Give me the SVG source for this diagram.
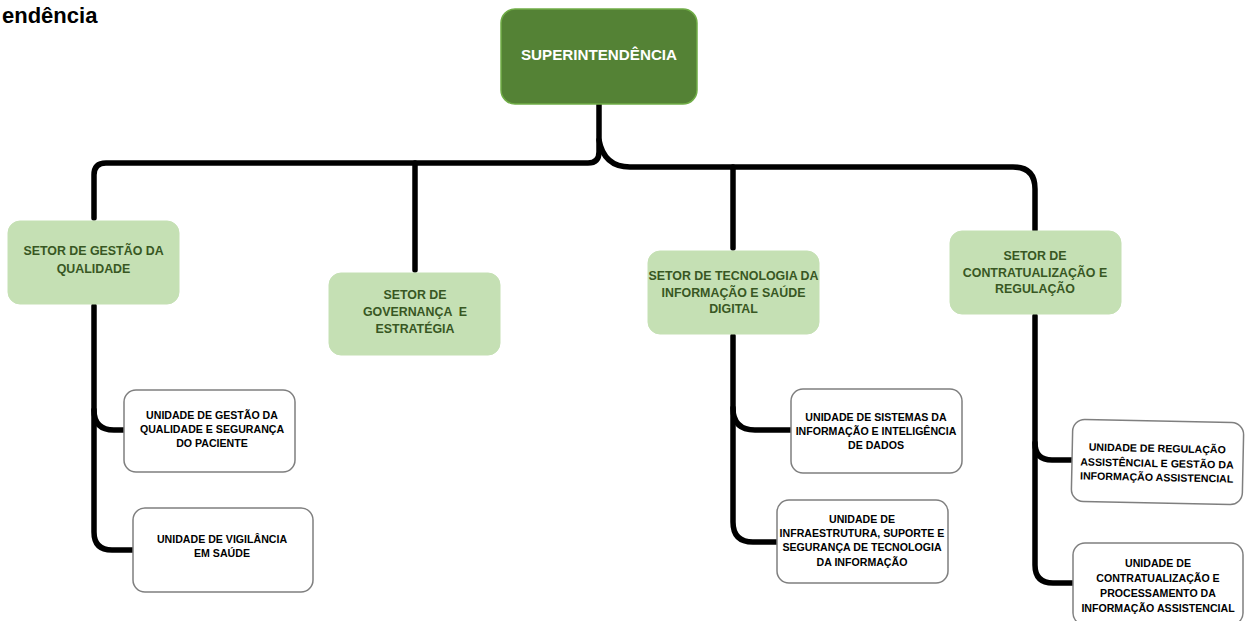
<svg xmlns="http://www.w3.org/2000/svg" width="1253" height="621" viewBox="0 0 1253 621">
<style>
.conn{fill:none;stroke:#000;stroke-width:5.5;stroke-linecap:round;stroke-linejoin:round}
.top{fill:#548235;stroke:#70ad47;stroke-width:1.5}
.setor{fill:#c5e0b4;stroke:#c5e0b4;stroke-width:1}
.unit{fill:#fff;stroke:#7f7f7f;stroke-width:1.5}
.t{font-family:"Liberation Sans",Arial,sans-serif;font-weight:bold;text-anchor:middle}
.ts{font-size:12.4px;fill:#385723}
.tu{font-size:10.6px;fill:#000}
.tt{font-size:15.2px;fill:#fff}
</style>
<text x="2" y="23" font-family="Liberation Sans, Arial, sans-serif" font-weight="bold" font-size="22" fill="#000">endência</text>
<g id="connectors">
<path class="conn" d="M599,104 V152 Q599,163 588,163 H106 Q94,163 94,175 V218"/>
<path class="conn" d="M599,140 Q604,167 630,167 H1013 Q1035,167 1035,189 V230"/>
<path class="conn" d="M415,163 V270"/>
<path class="conn" d="M733,167 V248"/>
<path class="conn" d="M94,306 V532 Q94,550 112,550 H133"/>
<path class="conn" d="M94,410 Q94,430 114,430 H124"/>
<path class="conn" d="M733,336 V522 Q733,542 753,542 H777"/>
<path class="conn" d="M733,408 Q733,430 755,430 H791"/>
<path class="conn" d="M1035,316 V565 Q1035,583 1053,583 H1073"/>
<path class="conn" d="M1035,443 Q1035,460 1052,460 H1072"/>
</g>
<g id="superintendencia">
<rect class="top" x="501" y="9" width="196" height="95" rx="14"/>
<text class="t tt" x="599" y="60">SUPERINTENDÊNCIA</text>
</g>
<g id="setor-qualidade">
<rect class="setor" x="8" y="221" width="171" height="83" rx="12"/>
<text class="t ts" x="93.5" y="255">SETOR DE GESTÃO DA</text>
<text class="t ts" x="93.5" y="273">QUALIDADE</text>
</g>
<g id="setor-governanca">
<rect class="setor" x="329" y="273" width="171" height="82" rx="12"/>
<text class="t ts" x="415" y="299">SETOR DE</text>
<text class="t ts" x="415" y="316" xml:space="preserve">GOVERNANÇA  E</text>
<text class="t ts" x="415" y="333">ESTRATÉGIA</text>
</g>
<g id="setor-ti">
<rect class="setor" x="648" y="251" width="171" height="83" rx="12"/>
<text class="t ts" x="733.5" y="280">SETOR DE TECNOLOGIA DA</text>
<text class="t ts" x="733.5" y="296.5">INFORMAÇÃO E SAÚDE</text>
<text class="t ts" x="733.5" y="313">DIGITAL</text>
</g>
<g id="setor-contratualizacao">
<rect class="setor" x="950" y="231" width="171" height="83" rx="12"/>
<text class="t ts" x="1035" y="260">SETOR DE</text>
<text class="t ts" x="1035" y="276.5">CONTRATUALIZAÇÃO E</text>
<text class="t ts" x="1035" y="293">REGULAÇÃO</text>
</g>
<g id="unidade-qualidade-seguranca">
<rect class="unit" x="124" y="390" width="171" height="82" rx="12"/>
<text class="t tu" x="212" y="419">UNIDADE DE GESTÃO DA</text>
<text class="t tu" x="212" y="433">QUALIDADE E SEGURANÇA</text>
<text class="t tu" x="212" y="447">DO PACIENTE</text>
</g>
<g id="unidade-vigilancia">
<rect class="unit" x="133" y="508" width="180" height="84" rx="12"/>
<text class="t tu" x="222" y="543">UNIDADE DE VIGILÂNCIA</text>
<text class="t tu" x="222" y="557">EM SAÚDE</text>
</g>
<g id="unidade-sistemas">
<rect class="unit" x="791" y="389" width="171" height="84" rx="12"/>
<text class="t tu" x="876" y="421">UNIDADE DE SISTEMAS DA</text>
<text class="t tu" x="876" y="435">INFORMAÇÃO E INTELIGÊNCIA</text>
<text class="t tu" x="876" y="449">DE DADOS</text>
</g>
<g id="unidade-infraestrutura">
<rect class="unit" x="777" y="500" width="171" height="83" rx="12"/>
<text class="t tu" x="862" y="523">UNIDADE DE</text>
<text class="t tu" x="862" y="537">INFRAESTRUTURA, SUPORTE E</text>
<text class="t tu" x="862" y="551">SEGURANÇA DE TECNOLOGIA</text>
<text class="t tu" x="862" y="566">DA INFORMAÇÃO</text>
</g>
<g id="unidade-regulacao" transform="rotate(1.2 1157 462)">
<rect class="unit" x="1072" y="421" width="171" height="82" rx="12"/>
<text class="t tu" x="1157" y="452">UNIDADE DE REGULAÇÃO</text>
<text class="t tu" x="1157" y="467">ASSISTÊNCIAL E GESTÃO DA</text>
<text class="t tu" x="1157" y="481">INFORMAÇÃO ASSISTENCIAL</text>
</g>
<g id="unidade-contratualizacao">
<rect class="unit" x="1073" y="543" width="170" height="82" rx="12"/>
<text class="t tu" x="1158" y="567">UNIDADE DE</text>
<text class="t tu" x="1158" y="582">CONTRATUALIZAÇÃO E</text>
<text class="t tu" x="1158" y="597">PROCESSAMENTO DA</text>
<text class="t tu" x="1158" y="612">INFORMAÇÃO ASSISTENCIAL</text>
</g>
</svg>
